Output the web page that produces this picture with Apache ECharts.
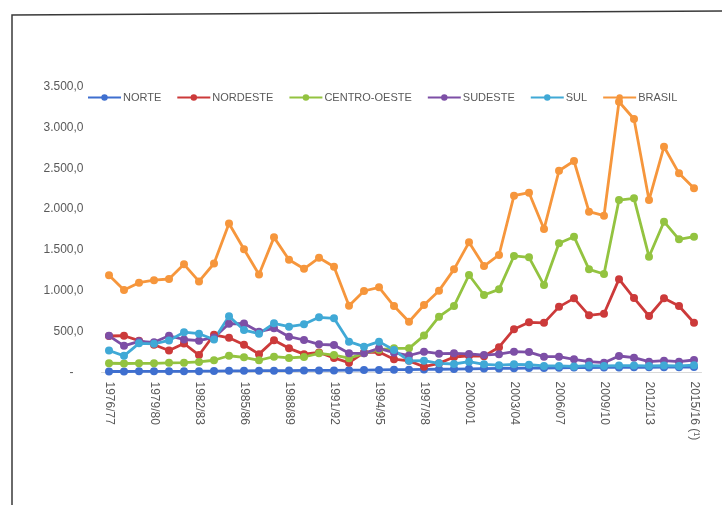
<!DOCTYPE html>
<html>
<head>
<meta charset="utf-8">
<script src="https://cdn.jsdelivr.net/npm/echarts@6/dist/echarts.min.js"></script>
<style>
html,body{margin:0;padding:0;background:#fff;}
#chart{width:722px;height:505px;}
</style>
</head>
<body>
<div id="chart"></div>
<script>
var categories = ['1976/77','1977/78','1978/79','1979/80','1980/81','1981/82','1982/83','1983/84','1984/85','1985/86',
  '1986/87','1987/88','1988/89','1989/90','1990/91','1991/92','1992/93','1993/94','1994/95','1995/96',
  '1996/97','1997/98','1998/99','1999/00','2000/01','2001/02','2002/03','2003/04','2004/05','2005/06',
  '2006/07','2007/08','2008/09','2009/10','2010/11','2011/12','2012/13','2013/14','2014/15','2015/16 (¹)'];

var norte = [12,12,14,14,15,15,16,18,20,20,22,22,24,25,25,26,28,30,32,34,35,38,40,42,45,48,50,52,54,55,58,60,60,62,62,64,64,65,65,66];
var nordeste = [447,450,390,340,270,355,214,462,425,340,225,395,296,225,245,178,120,245,250,163,143,71,112,190,205,200,310,530,615,608,804,908,700,720,1143,912,692,908,814,610];
var centroOeste = [113,110,112,112,118,120,130,150,205,186,150,194,178,190,235,214,175,235,280,296,296,452,684,814,1194,949,1018,1427,1410,1071,1582,1663,1263,1206,2112,2133,1418,1847,1631,1663];
var sudeste = [449,327,382,370,449,404,390,430,596,600,500,541,439,398,345,337,235,235,296,243,208,255,231,235,227,214,225,255,250,194,194,161,133,120,202,182,133,145,133,153];
var sul = [270,204,357,351,392,494,475,404,688,520,475,602,561,590,676,663,378,316,378,275,143,145,112,104,133,100,90,100,95,80,80,75,85,80,85,85,80,85,80,90];
var brasil = [1190,1010,1100,1130,1145,1325,1115,1335,1825,1510,1200,1655,1380,1270,1405,1295,818,998,1043,814,622,826,1002,1263,1594,1304,1439,2165,2202,1757,2471,2590,1969,1920,3316,3104,2112,2765,2439,2255];

var seriesNames = ['NORTE','NORDESTE','CENTRO-OESTE','SUDESTE','SUL','BRASIL'];
var seriesData = [norte, nordeste, centroOeste, sudeste, sul, brasil];
var colors = ['#3f6fcf','#cc3a3a','#93c340','#7d4fa6','#40a9d6','#f6963c'];

function fmt(v){
  if (v === 0) return '-   ';
  var s = Math.round(v).toString().replace(/\B(?=(\d{3})+(?!\d))/g, '.');
  return s + ',0';
}

var chart = echarts.init(document.getElementById('chart'), null, {renderer:'canvas'});
chart.setOption({
  animation:false,
  backgroundColor:'#fff',
  color: colors,
  grid:{left:101.5, right:20.5, top:86.7, bottom:132.5, containLabel:false},
  legend:{
    left:82, top:87, itemWidth:33, itemHeight:8, itemGap:15,
    textStyle:{color:'#595959', fontSize:11, fontFamily:'Liberation Sans, Arial, sans-serif', padding:[0,0,0,-3]},
    data: seriesNames
  },
  xAxis:{
    type:'category', data:categories, boundaryGap:true,
    axisLine:{show:true, lineStyle:{color:'#d9d9d9'}},
    axisTick:{show:false},
    axisLabel:{interval:2, rotate:-90, margin:9, color:'#595959', fontSize:12, fontFamily:'Liberation Sans, Arial, sans-serif'}
  },
  yAxis:{
    type:'value', min:0, max:3500, interval:500,
    axisLine:{show:false}, axisTick:{show:false},
    splitLine:{show:false},
    axisLabel:{color:'#595959', fontSize:12, margin:18, fontFamily:'Liberation Sans, Arial, sans-serif', formatter:fmt}
  },
  series: seriesNames.map(function(n,i){
    return {name:n, type:'line', data:seriesData[i], symbol:'circle', symbolSize:8,
      lineStyle:{width:2.8, color:colors[i]}, itemStyle:{color:colors[i]}};
  }),
  graphic:[{
    type:'polyline', silent:true,
    shape:{points:[[12,505],[12,15],[722,11]]},
    style:{stroke:'#3a3a3a', lineWidth:1.5, fill:null}
  }]
});
</script>
</body>
</html>
